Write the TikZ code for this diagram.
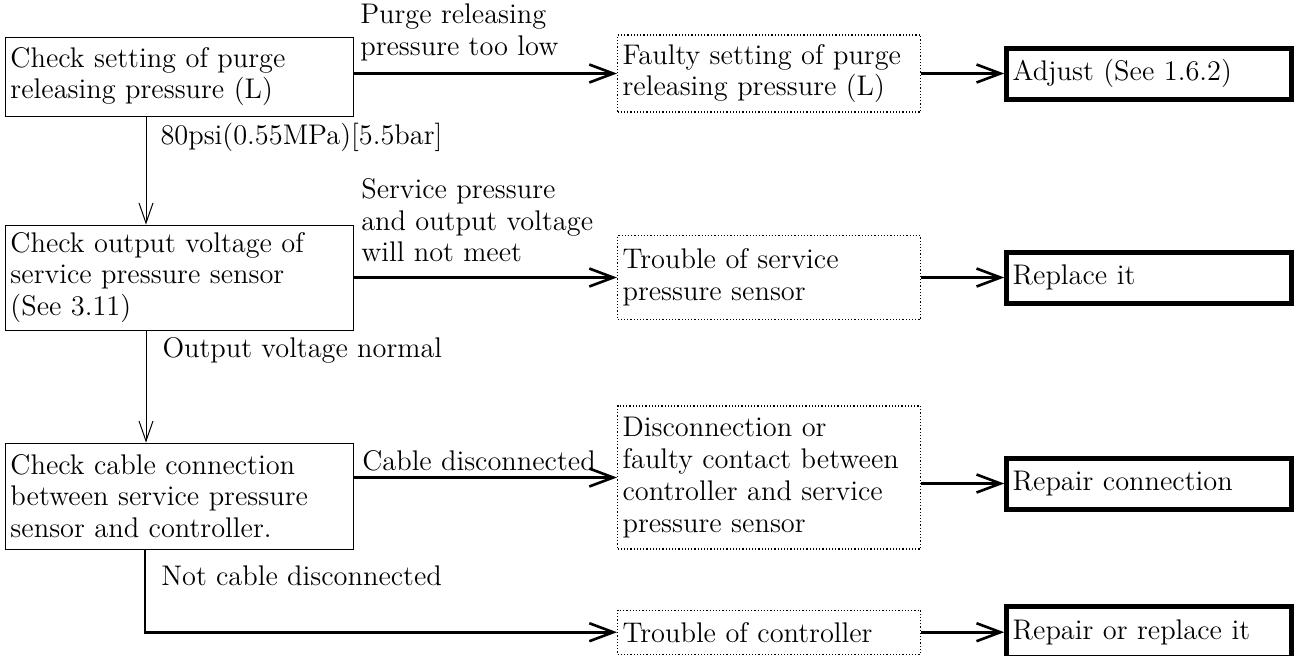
\documentclass[tikz,border=0pt]{standalone}
\usepackage{tikz}
\usetikzlibrary{arrows.meta,positioning}

\begin{document}
\begin{tikzpicture}[
   x=1pt,y=1pt,
   font=\fontsize{14.2}{15.9}\selectfont,
   chk/.style={draw,line width=0.5pt,align=left,text width=169pt,
               inner xsep=2.5pt,minimum height=39.5pt},
   flt/.style={draw,densely dotted,line width=0.6pt,align=left,
               text width=146.5pt,inner xsep=2.5pt},
   act/.style={draw,line width=2.5pt,align=left,text width=136.5pt,
               inner xsep=3pt,minimum height=25.5pt},
   lbl/.style={align=left,inner sep=0pt},
   arr/.style={-{Straight Barb[length=12pt,width=9pt]},line width=1.3pt},
   varr/.style={-{Straight Barb[length=10pt,width=7pt]},line width=0.5pt}
 ]
  \useasboundingbox (0,0) rectangle (647,-327.5);
  \node[chk,anchor=west] (chk1) at (2.5,-38.25) {Check setting of purge\\releasing pressure (L)};
  \node[chk,minimum height=52.5pt,below=54pt of chk1] (chk2) {Check output voltage of\\service pressure sensor\\(See 3.11)};
  \node[chk,minimum height=53pt,below=56pt of chk2] (chk3) {Check cable connection\\between service pressure\\sensor and controller.};
  \node[flt,minimum height=38.5pt,right=131.5pt of chk1,yshift=1.5pt] (flt1) {Faulty setting of purge\\releasing pressure (L)};
  \node[flt,minimum height=42pt,right=131.5pt of chk2] (flt2) {Trouble of service\\pressure sensor};
  \node[flt,minimum height=71.5pt,right=131.5pt of chk3,yshift=9.25pt] (flt3) {Disconnection or\\faulty contact between\\controller and service\\pressure sensor};
  \node[flt,minimum height=22pt,below=30pt of flt3] (flt4) {Trouble of controller};
  \node[act,right=41.5pt of flt1] (act1) {Adjust (See 1.6.2)};
  \node[act,right=41.5pt of flt2] (act2) {Replace it};
  \node[act,right=41.5pt of flt3,yshift=-3pt] (act3) {Repair connection};
  \node[act,right=41.5pt of flt4] (act4) {Repair or replace it};
  \draw[arr] (chk1.east |- flt1.west) -- (flt1.west)
     node[lbl,pos=0,anchor=south west,xshift=2.5pt,yshift=5.5pt] {Purge releasing\\pressure too low};
  \draw[arr] (chk2.east |- flt2.west) -- (flt2.west)
     node[lbl,pos=0,anchor=south west,xshift=3pt,yshift=7pt] {Service pressure\\and output voltage\\will not meet};
  \draw[arr] (chk3.east |- flt3.west) -- (flt3.west)
     node[lbl,pos=0,anchor=base west,xshift=3.5pt,yshift=3.5pt] {Cable disconnected};
  \draw[varr] ([xshift=70.5pt]chk1.south west) -- ([xshift=70.5pt]chk2.north west)
     node[lbl,pos=0,anchor=base west,xshift=7pt,yshift=-14pt] {80psi(0.55MPa)[5.5bar]};
  \draw[varr] ([xshift=70.5pt]chk2.south west) -- ([xshift=70.5pt]chk3.north west)
     node[lbl,pos=0,anchor=base west,xshift=8pt,yshift=-13.5pt] {Output voltage normal};
  \draw[arr] ([xshift=70pt]chk3.south west) |- (flt4.west)
     node[lbl,pos=0,anchor=base west,xshift=7.5pt,yshift=-18pt] {Not cable disconnected};
  \draw[arr] (flt1) -- (act1);
  \draw[arr] (flt2) -- (act2);
  \draw[arr] (flt3.east |- act3.west) -- (act3.west);
  \draw[arr] (flt4) -- (act4);
 \end{tikzpicture}
\end{document}
